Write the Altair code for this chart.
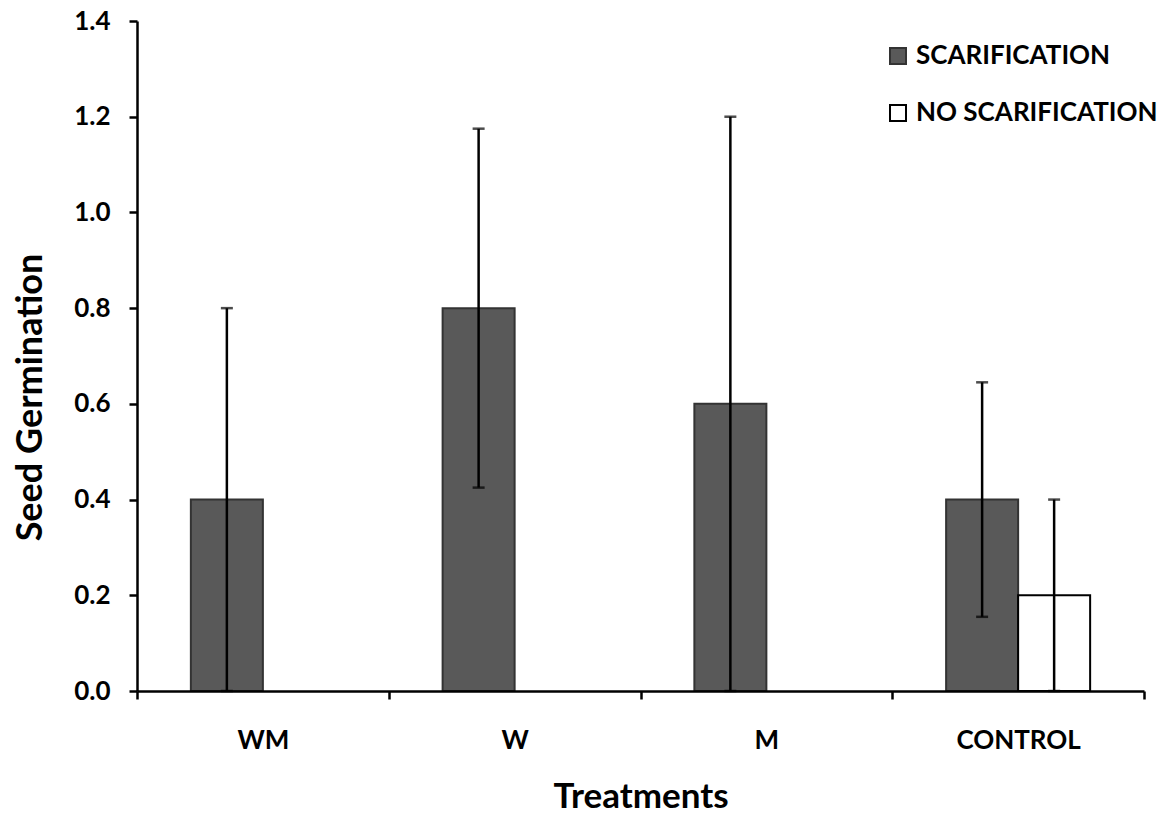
import altair as alt
import pandas as pd

# Seed germination by treatment, with and without scarification
treatments = ["WM", "W", "M", "CONTROL"]
groups = ["SCARIFICATION", "NO SCARIFICATION"]

scar_mean = [0.4, 0.8, 0.6, 0.4]
scar_err = [0.4, 0.375, 0.6, 0.245]

# only the control was also run without scarification
noscar_treatments = ["CONTROL"]
noscar_mean = [0.2]
noscar_err = [0.2]

rows = []
for t, m, e in zip(treatments, scar_mean, scar_err):
    rows.append({"treatment": t, "group": groups[0], "mean": m,
                 "low": max(m - e, 0), "high": m + e})
for t, m, e in zip(noscar_treatments, noscar_mean, noscar_err):
    rows.append({"treatment": t, "group": groups[1], "mean": m,
                 "low": max(m - e, 0), "high": m + e})
df = pd.DataFrame(rows)

FONT = "Lato"

x_enc = alt.X(
    "treatment:N",
    sort=treatments,
    scale=alt.Scale(paddingInner=0, paddingOuter=0),
    axis=alt.Axis(
        title="Treatments",
        labelAngle=0,
        labelFont=FONT, labelFontWeight="bold", labelFontSize=26,
        labelColor="black", labelPadding=28,
        titleFont=FONT, titleFontWeight="bold", titleFontSize=35,
        titleColor="black", titlePadding=26,
        domainColor="black", domainWidth=2.5,
        tickColor="black", tickWidth=2.5, tickSize=8,
        tickBand="extent", grid=False, zindex=1,
    ),
)
xoff = alt.XOffset("group:N", sort=groups,
                   scale=alt.Scale(domain=groups, paddingOuter=0.748, paddingInner=0))

y_scale = alt.Scale(domain=[0, 1.4], nice=False)

legend_style = dict(
    title=None, orient="none", legendX=748, legendY=22,
    symbolType="square", symbolSize=256, symbolStrokeWidth=2,
    labelFont=FONT, labelFontWeight="bold", labelFontSize=26,
    labelColor="black", labelOffset=5, rowPadding=31, labelLimit=0,
)

bars = alt.Chart(df).mark_bar(strokeWidth=2).encode(
    x=x_enc,
    xOffset=xoff,
    y=alt.Y(
        "mean:Q",
        scale=y_scale,
        axis=alt.Axis(
            title="Seed Germination",
            values=[0, 0.2, 0.4, 0.6, 0.8, 1.0, 1.2, 1.4],
            format=".1f",
            labelFont=FONT, labelFontWeight="bold", labelFontSize=26,
            labelColor="black", labelPadding=19,
            titleFont=FONT, titleFontWeight="bold", titleFontSize=36,
            titleColor="black", titlePadding=24, titleY=376,
            domainColor="black", domainWidth=2.5,
            tickColor="black", tickWidth=2.5, tickSize=8,
            grid=False, zindex=1,
        ),
    ),
    fill=alt.Fill(
        "group:N",
        scale=alt.Scale(domain=groups, range=["#595959", "#ffffff"]),
        legend=alt.Legend(**legend_style),
    ),
    stroke=alt.Stroke(
        "group:N",
        scale=alt.Scale(domain=groups, range=["#333333", "#000000"]),
        legend=alt.Legend(**legend_style),
    ),
)

whiskers = alt.Chart(df).mark_rule(color="black", strokeWidth=2.5).encode(
    x=alt.X("treatment:N", sort=treatments),
    xOffset=alt.XOffset("group:N", sort=groups),
    y=alt.Y("low:Q", scale=y_scale),
    y2="high:Q",
)

caps_high = alt.Chart(df).mark_tick(color="black", size=12, thickness=2.5).encode(
    x=alt.X("treatment:N", sort=treatments),
    xOffset=alt.XOffset("group:N", sort=groups),
    y=alt.Y("high:Q", scale=y_scale),
)

caps_low = alt.Chart(df).mark_tick(color="black", size=12, thickness=2.5).encode(
    x=alt.X("treatment:N", sort=treatments),
    xOffset=alt.XOffset("group:N", sort=groups),
    y=alt.Y("low:Q", scale=y_scale),
)

chart = (
    alt.layer(bars, whiskers, caps_high, caps_low)
    .properties(
        width=1007, height=670,
        autosize=alt.AutoSizeParams(type="none"),
        padding={"left": 137, "top": 21, "right": 14, "bottom": 128},
        background="white",
    )
    .configure_view(stroke=None)
)

chart.save("out.html", embed_options={"renderer": "svg", "actions": False})
